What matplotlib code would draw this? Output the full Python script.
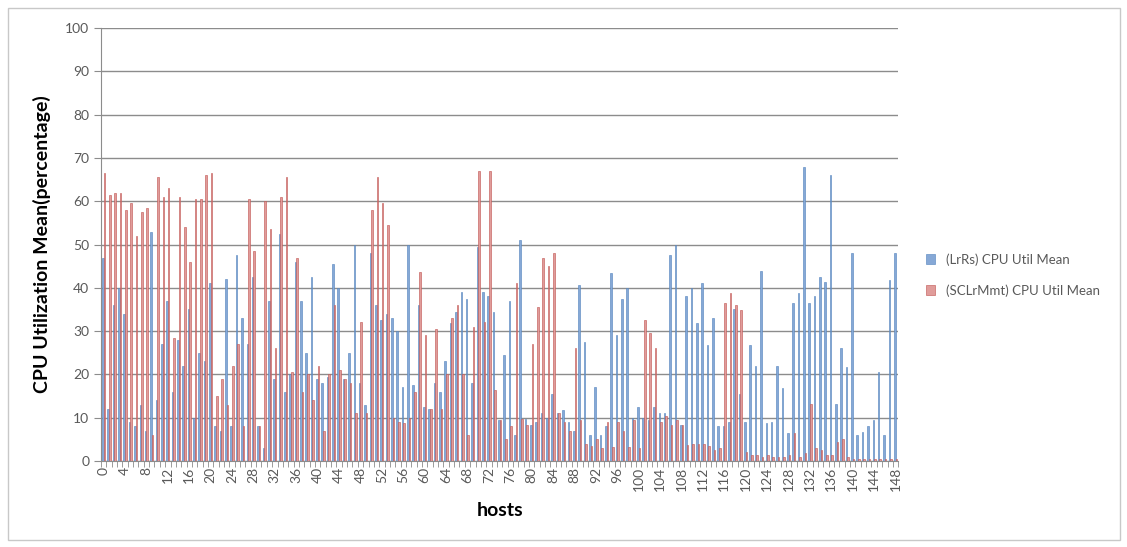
import numpy as np
import matplotlib
matplotlib.use("Agg")
import matplotlib.pyplot as plt
from matplotlib.patches import Rectangle

# CPU utilisation mean per host
lrrs_mean = [47, 12, 36, 40, 34, 9, 8, 13, 7, 53,
             14, 27, 37, 16, 28, 22, 35, 10, 25, 23,
             41, 8, 7, 42, 8, 47.5, 33, 27, 42.5, 8,
             3, 37, 19, 52.5, 16, 20, 46, 37, 25, 42.5,
             19, 18, 19.5, 45.5, 40, 19, 25, 50, 18, 13,
             48, 36, 32.5, 34, 33, 30, 17, 50, 17.5, 36,
             12.5, 12, 18, 16, 23, 31.8, 34.5, 39, 37.5, 18,
             49.5, 39, 38, 34.5, 9.5, 24.5, 37, 6, 51, 9.8,
             8.3, 9, 11, 10, 15.6, 11, 11.8, 9, 7, 40.6,
             27.5, 6, 17, 6, 8, 43.5, 29, 37.5, 40, 10,
             12.5, 10, 9.5, 12.5, 11, 11, 47.5, 50, 8.3, 38,
             40, 31.8, 41, 26.8, 33, 8, 8, 9, 35, 15.6,
             9, 26.8, 22, 44, 8.7, 9, 22, 16.8, 6.4, 36.4,
             38.7, 68, 36.4, 38, 42.5, 41.4, 66, 13.3, 26, 21.8,
             48, 6, 6.8, 8, 9.5, 20.6, 6, 41.8, 48]

sclrmmt_mean = [66.5, 61.5, 62, 62, 58, 59.5, 52, 57.5, 58.5, 6,
                65.5, 61, 63, 28.5, 61, 54, 46, 60.5, 60.5, 66,
                66.5, 15, 19, 13, 22, 27, 8, 60.5, 48.5, 8,
                60, 53.5, 26, 61, 65.5, 20.5, 47, 16, 20, 14,
                22, 7, 20, 36, 21, 19, 18, 11, 32, 11,
                58, 65.5, 59.5, 54.5, 10, 9, 8.7, 10, 16, 43.7,
                29, 12, 30.6, 12, 20, 33, 36, 20, 6, 31,
                67, 32, 67, 16.5, 9.5, 5, 8, 41, 9.8, 8.3,
                27, 35.6, 47, 45, 48, 11, 9, 7, 26, 9.5,
                4, 3.5, 5, 3, 9, 3.3, 9, 7, 3.3, 9.5,
                3, 32.5, 29.5, 26, 9, 10.5, 8.3, 9.5, 8.3, 3.7,
                4, 4, 4, 3.5, 2.5, 3, 36.4, 38.7, 36, 34.8,
                2, 1.5, 1.5, 1, 1.5, 1, 1, 1, 1.5, 6.4,
                1, 1.8, 13.3, 3, 2.5, 1.5, 1.5, 4.5, 5.2, 1,
                0.5, 0.5, 0.5, 0.5, 0.5, 0.5, 0.5, 0.5, 0.5]

hosts = np.arange(len(lrrs_mean))
series_names = ["(LrRs) CPU Util Mean", "(SCLrMmt) CPU Util Mean"]

plt.rcParams['font.family'] = ['Lato', 'DejaVu Sans']

fig = plt.figure(figsize=(11.27, 5.47), dpi=100)
# outer chart border
fig.patches.append(Rectangle((0.007, 0.013), 0.987, 0.972, transform=fig.transFigure,
                             fill=False, edgecolor='#c8c8c8', linewidth=1))

ax = fig.add_axes([0.0896, 0.157, 0.7074, 0.792])

w = 0.3
ax.bar(hosts - w / 2, lrrs_mean, width=w, color='#86a8d6', edgecolor='#4f81bd',
       linewidth=0.4, label=series_names[0], zorder=3)
ax.bar(hosts + w / 2, sclrmmt_mean, width=w, color='#e09c9a', edgecolor='#c0504d',
       linewidth=0.4, label=series_names[1], zorder=3)

ax.set_xlim(-0.5, len(hosts) - 0.5)
ax.set_ylim(0, 100)
ax.set_yticks(np.arange(0, 101, 10))
ax.set_xticks(hosts[::4])
ax.set_xticklabels([str(h) for h in hosts[::4]], rotation=90)
ax.set_xticks(np.arange(-0.5, len(hosts), 1), minor=True)

ax.grid(axis='y', color='#8c8c8c', linewidth=1, zorder=0)
for side in ['top', 'right']:
    ax.spines[side].set_visible(False)
ax.spines['left'].set_color('#8c8c8c')
ax.spines['bottom'].set_color('#8c8c8c')
ax.tick_params(axis='y', colors='#595959', labelsize=10, length=5, color='#8c8c8c')
ax.tick_params(axis='x', which='major', colors='#595959', labelsize=10, length=0, pad=4)
ax.tick_params(axis='x', which='minor', length=4, color='#8c8c8c')

ax.set_ylabel("CPU Utilization Mean(percentage)", fontsize=14, fontweight='bold', labelpad=10)
ax.set_xlabel("hosts", fontsize=14, fontweight='bold', labelpad=8)

ax.legend(loc='center left', bbox_to_anchor=(1.02, 0.43), frameon=False, fontsize=9.5,
          handlelength=0.7, handleheight=0.7, labelcolor='#595959', labelspacing=1.4)

fig.savefig("out.png", dpi=100)
